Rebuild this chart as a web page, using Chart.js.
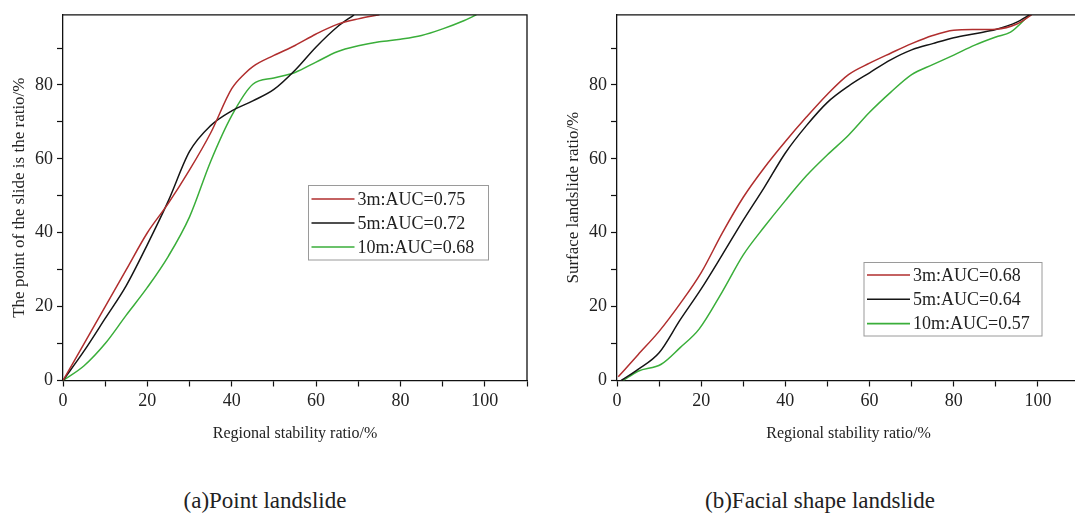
<!DOCTYPE html>
<html>
<head>
<meta charset="utf-8">
<script src="https://cdn.jsdelivr.net/npm/chart.js@4.4.1/dist/chart.umd.min.js"></script>
<style>
  html, body { margin: 0; padding: 0; background: #fff; }
  body { width: 1075px; height: 520px; position: relative; overflow: hidden; }
  .box { position: absolute; top: 0; height: 443px; }
  .caption {
    position: absolute; top: 488px; font-family: "Liberation Serif", "Times New Roman", serif;
    font-size: 23px; color: #222; white-space: nowrap; transform: translateX(-50%);
  }
</style>
</head>
<body>
<div class="box" style="left:0;width:540px"><canvas id="chartA"></canvas></div>
<div class="box" style="left:540px;width:560px"><canvas id="chartB"></canvas></div>
<div class="caption" style="left:265px">(a)Point landslide</div>
<div class="caption" style="left:820px">(b)Facial shape landslide</div>
<script>
// (a) point landslide, x = regional stability ratio %, y = landslide ratio %
const aX3 = [0, 5, 10, 15, 20, 25, 30, 35, 40, 43, 45, 50, 55, 60, 65, 70, 75];
const aY3 = [0, 10, 20, 30, 40, 48, 57, 67, 79, 83, 85, 88, 90.7, 93.8, 96.4, 97.9, 99];
const aX5 = [0, 5, 10, 15, 20, 25, 30, 35, 40, 45, 50, 55, 60, 65, 69];
const aY5 = [0, 8, 16.8, 25.7, 36.8, 48.7, 62, 69, 73, 75.7, 78.8, 84, 90.3, 95.7, 99];
const aX10 = [0, 5, 10, 15, 20, 25, 30, 35, 40, 45, 50, 55, 60, 65, 70, 75, 80, 85, 90, 95, 98];
const aY10 = [0, 4, 10, 17.7, 25.2, 33.7, 44.3, 59.3, 71.7, 80.2, 81.9, 83.4, 86.2, 89, 90.6, 91.7, 92.4, 93.4, 95.2, 97.4, 99];

// (b) facial shape landslide
const bX3 = [0.3, 5, 10, 15, 20, 25, 30, 35, 40, 45, 50, 55, 60, 65, 70, 75, 80, 85, 90, 95, 98.5];
const bY3 = [1, 7, 13.3, 20.8, 29.2, 39.9, 49.6, 57.6, 64.7, 71.3, 77.5, 82.8, 85.9, 88.6, 91.2, 93.4, 94.8, 95, 95.1, 96.5, 99];
const bX5 = [1, 5, 10, 15, 20, 25, 30, 35, 40, 45, 50, 55, 60, 65, 70, 75, 80, 85, 90, 95, 98];
const bY5 = [0, 3, 7.5, 16.4, 24.8, 34, 43.4, 52.3, 61.6, 69, 75.3, 79.7, 83.3, 86.8, 89.5, 91.2, 92.8, 93.9, 95, 97, 99];
const bX10 = [1.5, 5, 10.5, 15, 19.5, 25, 30, 35, 40, 45, 50, 55, 60, 65, 70, 75, 80, 85, 90, 93.5, 98];
const bY10 = [0, 2.5, 4.4, 8.9, 13.9, 24, 34, 41.6, 48.7, 55.4, 61.1, 66.4, 72.6, 78, 82.8, 85.5, 88.1, 90.8, 93, 94.3, 99];

const labelsA = ['3m:AUC=0.75', '5m:AUC=0.72', '10m:AUC=0.68'];
const labelsB = ['3m:AUC=0.68', '5m:AUC=0.64', '10m:AUC=0.57'];
const xTitle = 'Regional stability ratio/%';
const yTitleA = 'The point of the slide is the ratio/%';
const yTitleB = 'Surface landslide ratio/%';

const colors = ['#b02e2e', '#151515', '#3aae3a'];
const serif = '"Liberation Serif", "Times New Roman", serif';

function pts(xs, ys) {
  return xs.map((x, i) => ({ x: x, y: ys[i] }));
}

// box round the plot area, top and right sides
const frame = {
  id: 'frame',
  afterDraw(chart) {
    const a = chart.chartArea;
    const ctx = chart.ctx;
    ctx.save();
    ctx.strokeStyle = '#111';
    ctx.lineWidth = 1.3;
    ctx.beginPath();
    ctx.moveTo(a.left, a.top);
    ctx.lineTo(a.right, a.top);
    ctx.lineTo(a.right, a.bottom);
    ctx.stroke();
    ctx.restore();
  }
};

// legend drawn inside the plot
const boxLegend = {
  id: 'boxLegend',
  afterDraw(chart, args, opts) {
    const ctx = chart.ctx;
    ctx.save();
    ctx.strokeStyle = '#9a9a9a';
    ctx.lineWidth = 1;
    ctx.strokeRect(opts.left, opts.top, opts.width, opts.height);
    ctx.font = '18px ' + serif;
    ctx.textBaseline = 'middle';
    ctx.fillStyle = '#222';
    chart.data.datasets.forEach((ds, i) => {
      const y = opts.firstRow + i * opts.rowGap;
      ctx.strokeStyle = ds.borderColor;
      ctx.lineWidth = 1.6;
      ctx.beginPath();
      ctx.moveTo(opts.left + 3, y);
      ctx.lineTo(opts.left + 46, y);
      ctx.stroke();
      ctx.fillText(ds.label, opts.left + 49, y + 1);
    });
    ctx.restore();
  }
};

function makeChart(id, series, labels, yTitle, yWidth, yTitlePad, rightPad, legend) {
  const datasets = series.map((s, i) => ({
    label: labels[i],
    data: pts(s[0], s[1]),
    borderColor: colors[i],
    borderWidth: 1.5,
    pointRadius: 0,
    fill: false,
    cubicInterpolationMode: 'monotone'
  }));
  const tickFont = { family: serif, size: 18 };
  new Chart(document.getElementById(id), {
    type: 'line',
    data: { datasets: datasets },
    plugins: [frame, boxLegend],
    options: {
      responsive: true,
      maintainAspectRatio: false,
      animation: false,
      layout: { padding: { top: 7, right: rightPad, left: 0, bottom: 0 } },
      plugins: {
        legend: { display: false },
        tooltip: { enabled: false },
        boxLegend: legend
      },
      scales: {
        x: {
          type: 'linear',
          min: 0,
          max: 110,
          afterFit(scale) { scale.height = 62.5; },
          border: { color: '#111', width: 1.3 },
          grid: { drawOnChartArea: false, tickLength: 6, color: '#111', tickWidth: 1.2 },
          ticks: {
            stepSize: 10,
            autoSkip: false,
            maxRotation: 0,
            padding: 4,
            color: '#222',
            font: tickFont,
            callback: v => (v % 20 === 0 ? v : '')
          },
          title: {
            display: true,
            text: xTitle,
            color: '#222',
            font: { family: serif, size: 16 },
            padding: { top: 0, bottom: 0 }
          }
        },
        y: {
          min: 0,
          max: 99,
          afterFit(scale) { scale.width = yWidth; },
          border: { color: '#111', width: 1.3 },
          grid: { drawOnChartArea: false, tickLength: 6, color: '#111', tickWidth: 1.2 },
          ticks: {
            stepSize: 10,
            includeBounds: false,
            autoSkip: false,
            padding: 4,
            color: '#222',
            font: tickFont,
            callback: v => (v % 20 === 0 ? v : '')
          },
          title: {
            display: true,
            text: yTitle,
            color: '#222',
            font: { family: serif, size: 17 },
            padding: { top: yTitlePad, bottom: 0 }
          }
        }
      }
    }
  });
}

makeChart('chartA', [[aX3, aY3], [aX5, aY5], [aX10, aY10]], labelsA, yTitleA, 63, 9, 13,
  { left: 308.5, top: 185.5, width: 180, height: 74.5, firstRow: 199, rowGap: 24 });

makeChart('chartB', [[bX3, bY3], [bX5, bY5], [bX10, bY10]], labelsB, yTitleB, 77, 23, 20,
  { left: 324, top: 262.5, width: 178, height: 73.5, firstRow: 275, rowGap: 24.3 });
</script>
</body>
</html>
